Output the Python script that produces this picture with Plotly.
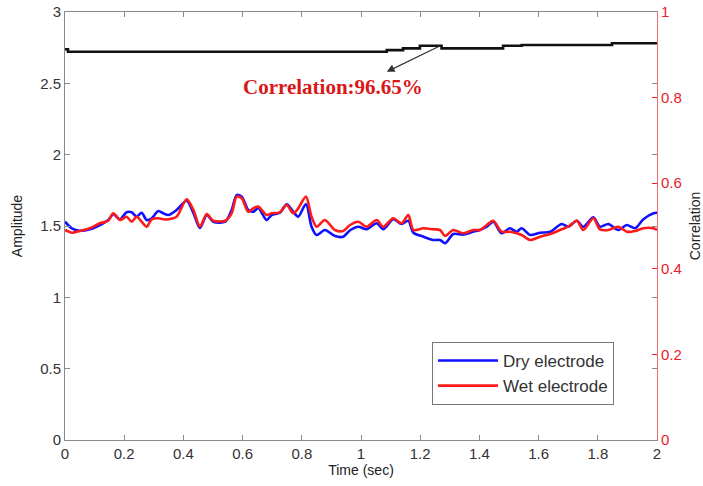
import plotly.graph_objects as go

# ---- data ----
time = [0, 0.023, 0.05, 0.084, 0.118, 0.146, 0.163, 0.186, 0.208, 0.225, 0.242, 0.259,
        0.276, 0.293, 0.315, 0.332, 0.349, 0.377, 0.411, 0.434, 0.456, 0.479, 0.501,
        0.541, 0.563, 0.580, 0.597, 0.619, 0.636, 0.653, 0.681, 0.698, 0.726, 0.749,
        0.771, 0.788, 0.814, 0.833, 0.85, 0.878, 0.912, 0.940, 0.963, 0.991, 1.019,
        1.053, 1.075, 1.109, 1.137, 1.160, 1.177, 1.211, 1.244, 1.267, 1.284, 1.312,
        1.346, 1.379, 1.402, 1.425, 1.447, 1.475, 1.503, 1.526, 1.543, 1.571, 1.605,
        1.639, 1.678, 1.700, 1.729, 1.751, 1.785, 1.807, 1.836, 1.869, 1.898, 1.926,
        1.954, 1.988, 2.0]

dry = [1.530, 1.484, 1.467, 1.477, 1.507, 1.542, 1.582, 1.547, 1.596, 1.596, 1.565, 1.593,
       1.542, 1.554, 1.605, 1.589, 1.577, 1.612, 1.677, 1.589, 1.486, 1.577, 1.530,
       1.530, 1.612, 1.717, 1.706, 1.612, 1.600, 1.624, 1.542, 1.577, 1.593, 1.652,
       1.600, 1.565, 1.654, 1.495, 1.437, 1.472, 1.430, 1.425, 1.470, 1.495, 1.477,
       1.519, 1.477, 1.547, 1.514, 1.537, 1.453, 1.425, 1.402, 1.402, 1.379, 1.444,
       1.440, 1.460, 1.472, 1.495, 1.530, 1.449, 1.484, 1.460, 1.484, 1.437, 1.453,
       1.460, 1.514, 1.495, 1.537, 1.495, 1.561, 1.495, 1.514, 1.472, 1.507, 1.484,
       1.547, 1.589, 1.593]

wet = [1.472, 1.453, 1.465, 1.484, 1.519, 1.537, 1.589, 1.542, 1.565, 1.530, 1.565, 1.530,
       1.495, 1.547, 1.554, 1.547, 1.547, 1.565, 1.687, 1.612, 1.495, 1.583, 1.537,
       1.537, 1.589, 1.706, 1.694, 1.600, 1.624, 1.636, 1.577, 1.589, 1.596, 1.647,
       1.589, 1.624, 1.706, 1.565, 1.495, 1.542, 1.472, 1.465, 1.507, 1.530, 1.495,
       1.542, 1.495, 1.554, 1.519, 1.577, 1.472, 1.484, 1.477, 1.472, 1.430, 1.472,
       1.449, 1.472, 1.472, 1.507, 1.537, 1.460, 1.460, 1.449, 1.437, 1.402, 1.425,
       1.444, 1.477, 1.495, 1.537, 1.472, 1.554, 1.477, 1.472, 1.495, 1.460, 1.465,
       1.484, 1.484, 1.472]

corr_time = [0, 0.01, 1.087, 1.142, 1.199, 1.272, 1.48, 1.543, 1.848, 2.0]
corr_vals = [0.913, 0.907, 0.911, 0.915, 0.921, 0.915, 0.921, 0.923, 0.927, 0.927]

x_ticks = [0, 0.2, 0.4, 0.6, 0.8, 1, 1.2, 1.4, 1.6, 1.8, 2]
x_labels = ["0", "0.2", "0.4", "0.6", "0.8", "1", "1.2", "1.4", "1.6", "1.8", "2"]
y_ticks = [0, 0.5, 1, 1.5, 2, 2.5, 3]
y_labels = ["0", "0.5", "1", "1.5", "2", "2.5", "3"]
y2_ticks = [0, 0.2, 0.4, 0.6, 0.8, 1]
y2_labels = ["0", "0.2", "0.4", "0.6", "0.8", "1"]

annot_text = "Correlation:96.65%"
annot_pos = (0.905, 2.474)
arrow_head = (1.087, 2.581)
arrow_tail = (1.273, 2.769)

# ---- figure ----
SANS = "Liberation Sans, Arial, sans-serif"
AX_GRAY = "#8a8a8a"
RED = "#e8202a"

fig = go.Figure()
fig.add_trace(go.Scatter(x=time, y=dry, name="Dry electrode", mode="lines",
                         line=dict(color="#1010ff", width=2.6, shape="spline", smoothing=0.8)))
fig.add_trace(go.Scatter(x=time, y=wet, name="Wet electrode", mode="lines",
                         line=dict(color="#ff1a1a", width=2.6, shape="spline", smoothing=0.8)))
fig.add_trace(go.Scatter(x=corr_time, y=corr_vals, mode="lines", showlegend=False,
                         yaxis="y2", line=dict(color="#111111", width=2.6, shape="hv")))

fig.add_annotation(x=annot_pos[0], y=annot_pos[1], xref="x", yref="y", text=annot_text,
                   showarrow=False,
                   font=dict(family="Liberation Serif, Times New Roman, serif", size=21,
                             color="#d81818", weight="bold"))
fig.add_annotation(x=arrow_head[0], y=arrow_head[1], ax=arrow_tail[0], ay=arrow_tail[1],
                   xref="x", yref="y", axref="x", ayref="y", text="", showarrow=True,
                   arrowhead=2, arrowsize=1.3, arrowwidth=1.2, arrowcolor="#333333")

fig.update_layout(
    width=703, height=486,
    margin=dict(l=65, r=46, t=12, b=46, autoexpand=False),
    paper_bgcolor="white", plot_bgcolor="white",
    font=dict(family=SANS, size=14, color="#222222"),
    xaxis=dict(range=[0, 2], tickvals=x_ticks, ticktext=x_labels, ticks="inside",
               ticklen=5, tickcolor=AX_GRAY, showline=True, linecolor=AX_GRAY, linewidth=1,
               mirror="ticks", showgrid=False, zeroline=False, automargin=False,
               title=dict(text="Time (sec)", standoff=4, font=dict(size=14)),
               tickfont=dict(size=15, color="#333333")),
    yaxis=dict(range=[0, 3], tickvals=y_ticks, ticktext=y_labels, ticks="inside",
               ticklen=5, tickcolor=AX_GRAY, showline=True, linecolor=AX_GRAY, linewidth=1,
               mirror="ticks", showgrid=False, zeroline=False, automargin=False,
               title=dict(text="Amplitude", standoff=14, font=dict(size=14)),
               tickfont=dict(size=15, color="#333333")),
    yaxis2=dict(range=[0, 1], overlaying="y", side="right", tickvals=y2_ticks,
                ticktext=y2_labels, ticks="inside", ticklen=5, tickcolor=RED,
                showline=True, linecolor="#f06a70", linewidth=1, showgrid=False,
                zeroline=False, automargin=False, tickfont=dict(size=15, color=RED),
                title=dict(text="Correlation", standoff=12, font=dict(size=14, color="#222222"))),
    legend=dict(x=0.62, y=0.229, xanchor="left", yanchor="top", bgcolor="white",
                bordercolor="#777777", borderwidth=1, font=dict(size=17, color="#333333"),
                tracegroupgap=0, itemwidth=60),
    showlegend=True,
)

fig.write_html("out.html")
